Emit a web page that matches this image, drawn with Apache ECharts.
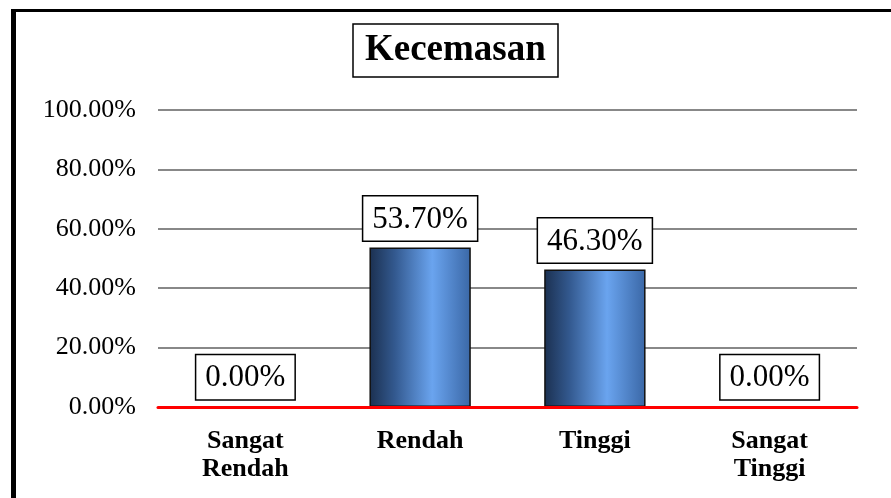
<!DOCTYPE html>
<html>
<head>
<meta charset="utf-8">
<script src="https://cdn.jsdelivr.net/npm/echarts@6/dist/echarts.min.js"></script>
<style>
html,body{margin:0;padding:0;background:#fff;}
#c{width:891px;height:498px;}
</style>
</head>
<body>
<div id="c"></div>
<script>
var titleText = 'Kecemasan';
var categories = ['Sangat\nRendah', 'Rendah', 'Tinggi', 'Sangat\nTinggi'];
var values = [0.0, 53.70, 46.30, 0.0];
var yTicks = [0, 20, 40, 60, 80, 100];

var serif = '"Liberation Serif", "Times New Roman", serif';
var chart = echarts.init(document.getElementById('c'), null, {renderer: 'canvas'});
chart.setOption({
  backgroundColor: '#ffffff',
  animation: false,
  title: {
    text: titleText,
    left: 353,
    top: 24,
    padding: [4, 12, 5, 12],
    borderColor: '#000',
    borderWidth: 1.5,
    backgroundColor: '#fff',
    textStyle: {fontFamily: serif, fontWeight: 'bold', fontSize: 37, color: '#000', lineHeight: 44}
  },
  grid: {left: 158, right: 34, top: 110, bottom: 91},
  xAxis: {
    type: 'category',
    data: categories,
    z: 5,
    axisLine: {show: true, lineStyle: {color: '#ff0000', width: 3}},
    axisTick: {show: false},
    axisLabel: {fontFamily: serif, fontWeight: 'bold', fontSize: 26, color: '#000', lineHeight: 28, margin: 20}
  },
  yAxis: {
    type: 'value',
    min: yTicks[0],
    max: yTicks[yTicks.length - 1],
    interval: 20,
    axisLine: {show: false},
    axisTick: {show: false},
    splitLine: {lineStyle: {color: '#888888', width: 2}},
    axisLabel: {fontFamily: serif, fontSize: 26, color: '#000', margin: 22,
      formatter: function (v) { return v.toFixed(2) + '%'; }}
  },
  series: [{
    type: 'bar',
    data: values,
    barWidth: '58%',
    itemStyle: {
      borderColor: '#111',
      borderWidth: 1.5,
      color: {
        type: 'linear', x: 0, y: 0, x2: 1, y2: 0,
        colorStops: [
          {offset: 0, color: '#1b3050'},
          {offset: 0.25, color: '#33598f'},
          {offset: 0.62, color: '#6aa4ef'},
          {offset: 1, color: '#3a67a6'}
        ]
      }
    },
    label: {
      show: true,
      position: 'top',
      distance: 7,
      fontFamily: serif,
      fontSize: 31,
      color: '#000',
      lineHeight: 34,
      padding: [6, 9, 4, 9],
      borderColor: '#000',
      borderWidth: 1.5,
      backgroundColor: '#fff',
      formatter: function (p) { return p.value.toFixed(2) + '%'; }
    }
  }],
  graphic: [
    {type: 'line', shape: {x1: 13.5, y1: 9, x2: 13.5, y2: 498}, style: {stroke: '#000', lineWidth: 5}, z: 100},
    {type: 'line', shape: {x1: 11, y1: 10.5, x2: 891, y2: 10.5}, style: {stroke: '#000', lineWidth: 3}, z: 100}
  ]
});
</script>
</body>
</html>
